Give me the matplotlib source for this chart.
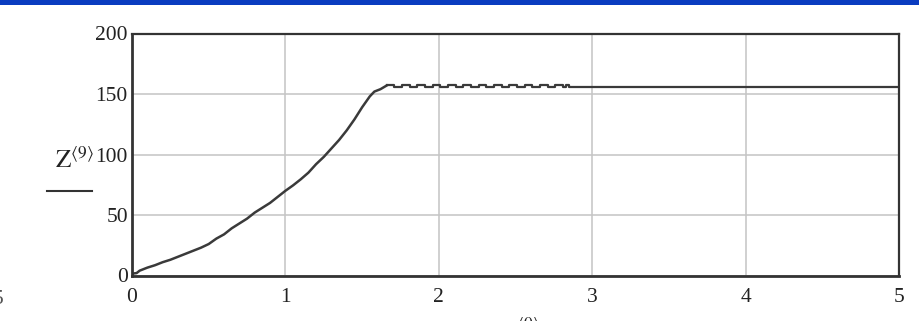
import matplotlib.pyplot as plt
from matplotlib.lines import Line2D

# rising part of the curve
rise_t = [0.0, 0.03, 0.05, 0.1, 0.15, 0.2, 0.25, 0.3, 0.35, 0.4, 0.45, 0.5,
          0.55, 0.6, 0.65, 0.7, 0.75, 0.8, 0.85, 0.9, 0.95, 1.0, 1.05, 1.1,
          1.15, 1.2, 1.25, 1.3, 1.35, 1.4, 1.45, 1.5, 1.55, 1.58, 1.62, 1.66]
rise_z = [1.5, 2, 4, 6.5, 8.5, 11, 13, 15.5, 18, 20.5, 23, 26,
          30.5, 34, 39, 43, 47, 52, 56, 60, 65, 70, 74.5, 79.5,
          85, 92, 98, 105, 112, 120, 129, 139, 148, 152, 154, 157]

# plateau with small square ripples, then flat
flat_t = [1.66, 1.71, 1.76, 1.81, 1.86, 1.91, 1.96, 2.01, 2.06, 2.11, 2.16,
          2.21, 2.26, 2.31, 2.36, 2.41, 2.46, 2.51, 2.56, 2.61, 2.66, 2.71,
          2.76, 2.81, 2.83, 2.85, 5.0]
flat_z = [157.6, 156, 157.6, 156, 157.6, 156, 157.6, 156, 157.6, 156, 157.6,
          156, 157.6, 156, 157.6, 156, 157.6, 156, 157.6, 156, 157.6, 156,
          157.6, 156, 157.2, 156, 156]

x_ticks = [0, 1, 2, 3, 4, 5]
y_ticks = [0, 50, 100, 150, 200]

plt.rcParams['mathtext.fontset'] = 'stix'

W, H = 919, 321
fig = plt.figure(figsize=(W / 100, H / 100), dpi=100)
ax = fig.add_axes([132 / W, 45.5 / H, (899 - 132) / W, (275.5 - 33.5) / H])

line_col = '#3a3a3a'
ax.plot(rise_t, rise_z, color=line_col, lw=1.8, solid_joinstyle='round')
ax.plot(flat_t, flat_z, color=line_col, lw=1.6, drawstyle='steps-post')

ax.set_xlim(0, 5)
ax.set_ylim(0, 200)
ax.set_xticks(x_ticks)
ax.set_yticks(y_ticks)
ax.grid(True, color='#c4c4c4', lw=1.1)
ax.set_axisbelow(True)
ax.tick_params(length=0, labelsize=15.5, colors='#222222')
ax.tick_params(axis='x', pad=9)
ax.tick_params(axis='y', pad=3)
for lab in ax.get_xticklabels() + ax.get_yticklabels():
    lab.set_family('Liberation Serif')
for side in ['left', 'bottom']:
    ax.spines[side].set_linewidth(2)
    ax.spines[side].set_color('#333333')
for side in ['top', 'right']:
    ax.spines[side].set_linewidth(1.6)
    ax.spines[side].set_color('#333333')

# blue band at the top
fig.add_artist(plt.Rectangle((0, 1 - 5 / H), 1, 5 / H, transform=fig.transFigure,
                             color='#0a3cc0', lw=0))

# y label with underline
fig.text(55 / W, 1 - 168 / H, r'$\mathrm{Z}^{\langle 9\rangle}$', fontsize=18,
         color='#222222', va='baseline', ha='left')
fig.add_artist(Line2D([47 / W, 92 / W], [1 - 191 / H, 1 - 191 / H],
                      transform=fig.transFigure, color='#333333', lw=1.5))

# clipped fragments at the edges of the screenshot
fig.text(3 / W, 1 - 304 / H, '5', fontsize=15.5, family='Liberation Serif',
         color='#555555', ha='right', va='baseline')
fig.text(501 / W, 1 - 339 / H, r'$\mathrm{Z}^{\langle 0\rangle}$', fontsize=18,
         color='#222222', va='baseline', ha='left')

fig.savefig('out.png', dpi=100)
